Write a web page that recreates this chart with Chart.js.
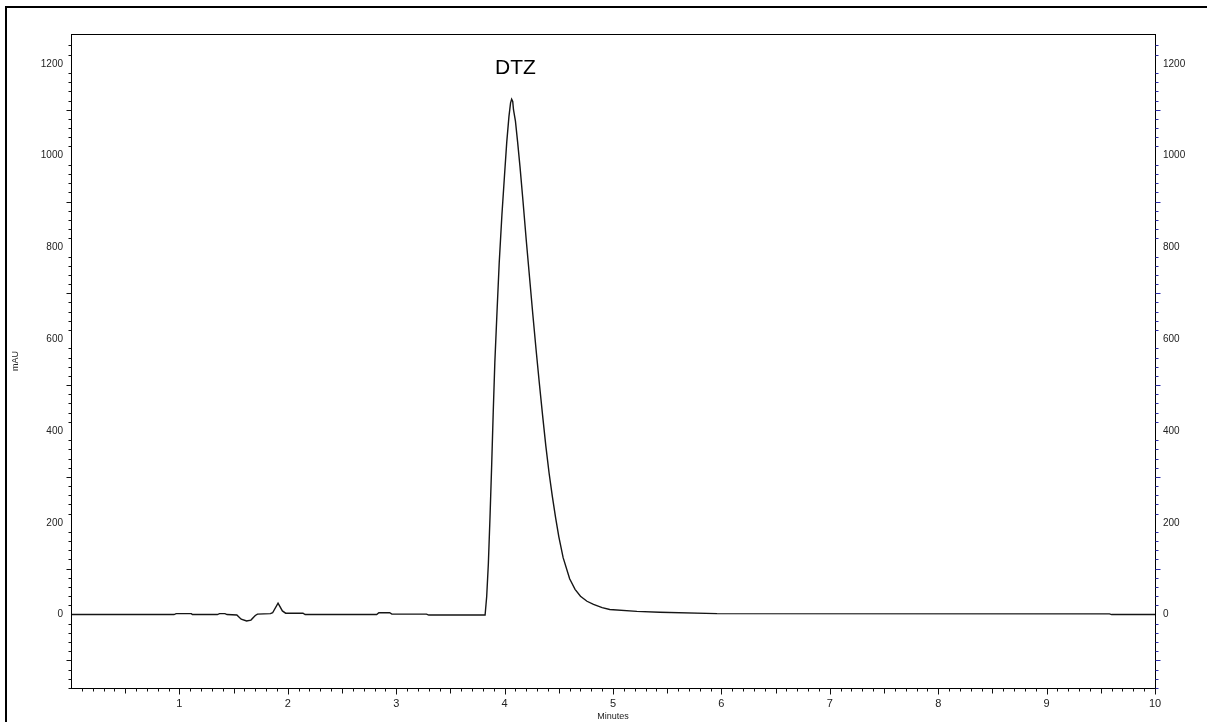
<!DOCTYPE html>
<html>
<head>
<meta charset="utf-8">
<title>DTZ chromatogram</title>
<script src="https://cdn.jsdelivr.net/npm/chart.js@4.4.1/dist/chart.umd.min.js"></script>
<style>
  html, body { margin: 0; padding: 0; background: #fff; overflow: hidden; }
  #wrap { position: relative; width: 1207px; height: 722px; }
  #frame { position: absolute; left: 5px; top: 6px; width: 1300px; height: 800px;
           border-top: 2px solid #000; border-left: 2px solid #000; pointer-events: none; }
</style>
</head>
<body>
<div id="wrap"><canvas id="myChart"></canvas><div id="frame"></div></div>
<script>
// retention time (min) and detector signal (mAU)
let retentionTime = [0, 0.95, 0.97, 1.11, 1.12, 1.35, 1.37, 1.42, 1.44, 1.53, 1.57, 1.62, 1.66, 1.70, 1.72,
  1.84, 1.86, 1.91, 1.95, 1.98, 2.14, 2.16, 2.82, 2.84, 2.94, 2.96, 3.28, 3.30, 3.82,
  3.835, 3.85, 3.865, 3.88, 3.895, 3.91, 3.93, 3.95, 3.975, 4.00, 4.02, 4.04, 4.055, 4.065, 4.075,
  4.082, 4.10, 4.12, 4.142, 4.17, 4.20, 4.23, 4.26, 4.29, 4.32, 4.35, 4.38, 4.41,
  4.44, 4.47, 4.50, 4.54, 4.60, 4.65, 4.70, 4.76, 4.82, 4.90, 4.97, 5.22, 5.43, 5.96, 9.58, 9.60, 10];
let absorbance = [0, 0, 2, 2, 0, 0, 2, 2, 0, -1, -10, -14, -12, -2, 1,
  2, 4, 25, 8, 3, 3, 0, 0, 4, 4, 1, 1, -1, -1,
  40, 110, 210, 320, 440, 550, 660, 765, 870, 960, 1030, 1085, 1115, 1123, 1118,
  1100, 1075, 1030, 976, 900, 815, 735, 655, 578, 505, 435, 368, 309,
  258, 212, 170, 124, 78, 55, 40, 29, 22, 15, 11, 7, 5, 2, 1.5, 0, 0];

let yLimits = [-160, 1265];
let xLimits = [0, 10];
let peakNames = ["DTZ"];
let peakAt = [[4.1, 1190]];

const fontFace = '"Liberation Sans", Arial, sans-serif';

const tickMarks = {
  id: 'tickMarks',
  afterDraw(chart) {
    const ctx = chart.ctx;
    const a = chart.chartArea;
    ctx.save();
    ctx.lineWidth = 1;
    ctx.strokeStyle = '#000';
    ctx.strokeRect(Math.round(a.left) + 0.5, Math.round(a.top) + 0.5,
      Math.round(a.right - a.left), Math.round(a.bottom - a.top));

    [['y', -1, '#111'], ['y2', 1, '#2b2ba8']].forEach(([id, dir, col]) => {
      const s = chart.scales[id];
      const x0 = (dir < 0 ? Math.round(a.left) : Math.round(a.right)) + 0.5;
      ctx.strokeStyle = col;
      s.ticks.forEach(t => {
        const v = Math.round(t.value);
        if (Math.abs(t.value - v) > 1e-6 || v % 20 !== 0 || v % 200 === 0) return;
        const len = v % 100 === 0 ? 5 : 3;
        const y = Math.round(s.getPixelForValue(v)) + 0.5;
        ctx.beginPath(); ctx.moveTo(x0, y); ctx.lineTo(x0 + dir * len, y); ctx.stroke();
      });
    });

    const sx = chart.scales.x;
    const y0 = Math.round(a.bottom) + 0.5;
    ctx.strokeStyle = '#111';
    sx.ticks.forEach(t => {
      const k = Math.round(t.value * 10);
      if (Math.abs(t.value * 10 - k) > 1e-4 || k === 0) return;
      const len = k % 10 === 0 ? 6 : (k % 5 === 0 ? 5 : 3);
      const x = Math.round(sx.getPixelForValue(k / 10)) + 0.5;
      ctx.beginPath(); ctx.moveTo(x, y0); ctx.lineTo(x, y0 + len); ctx.stroke();
    });
    ctx.restore();
  },
  afterDatasetsDraw(chart) {
    const ctx = chart.ctx;
    ctx.save();
    ctx.fillStyle = '#000';
    ctx.font = '21px ' + fontFace;
    ctx.textAlign = 'center';
    ctx.textBaseline = 'middle';
    peakNames.forEach((name, i) => {
      ctx.fillText(name, chart.scales.x.getPixelForValue(peakAt[i][0]),
        chart.scales.y.getPixelForValue(peakAt[i][1]));
    });
    ctx.restore();
  }
};

new Chart("myChart", {
  type: "line",
  data: {
    datasets: [{
      label: 'mAU',
      data: retentionTime.map((t, i) => ({ x: t, y: absorbance[i] })),
      borderColor: '#151515',
      borderWidth: 1.4,
      pointRadius: 0,
      tension: 0,
      fill: false,
      yAxisID: 'y'
    }]
  },
  plugins: [tickMarks],
  options: {
    responsive: true,
    maintainAspectRatio: false,
    animation: false,
    layout: { padding: { top: 34, left: 0, right: 0, bottom: 0 } },
    plugins: { legend: { display: false }, tooltip: { enabled: false } },
    scales: {
      x: {
        type: 'linear',
        min: xLimits[0],
        max: xLimits[1],
        afterFit: s => { s.height = 34; },
        grid: { display: false, drawTicks: false },
        border: { display: false },
        ticks: {
          stepSize: 0.1,
          autoSkip: false,
          maxRotation: 0,
          padding: 9,
          color: '#222',
          font: { family: fontFace, size: 11 },
          callback: v => {
            const k = Math.round(v * 10);
            return (k % 10 === 0 && k > 0) ? String(k / 10) : '';
          }
        },
        title: { display: true, text: 'Minutes', color: '#222',
                 font: { family: fontFace, size: 9 }, padding: { top: 0, bottom: 0 } }
      },
      y: {
        position: 'left',
        min: yLimits[0],
        max: yLimits[1],
        afterFit: s => { s.width = 71; },
        grid: { display: false, drawTicks: false },
        border: { display: false },
        ticks: {
          stepSize: 20,
          autoSkip: false,
          padding: 8,
          color: '#222',
          font: { family: fontFace, size: 10 },
          callback: v => (v % 200 === 0 ? String(v) : '')
        },
        title: { display: true, text: 'mAU', color: '#222',
                 font: { family: fontFace, size: 9 }, padding: { top: 10, bottom: 0 } }
      },
      y2: {
        position: 'right',
        min: yLimits[0],
        max: yLimits[1],
        afterFit: s => { s.width = 52; },
        grid: { display: false, drawTicks: false },
        border: { display: false },
        ticks: {
          stepSize: 20,
          autoSkip: false,
          padding: 8,
          color: '#222',
          font: { family: fontFace, size: 10 },
          callback: v => (v % 200 === 0 ? String(v) : '')
        }
      }
    }
  }
});
</script>
</body>
</html>
